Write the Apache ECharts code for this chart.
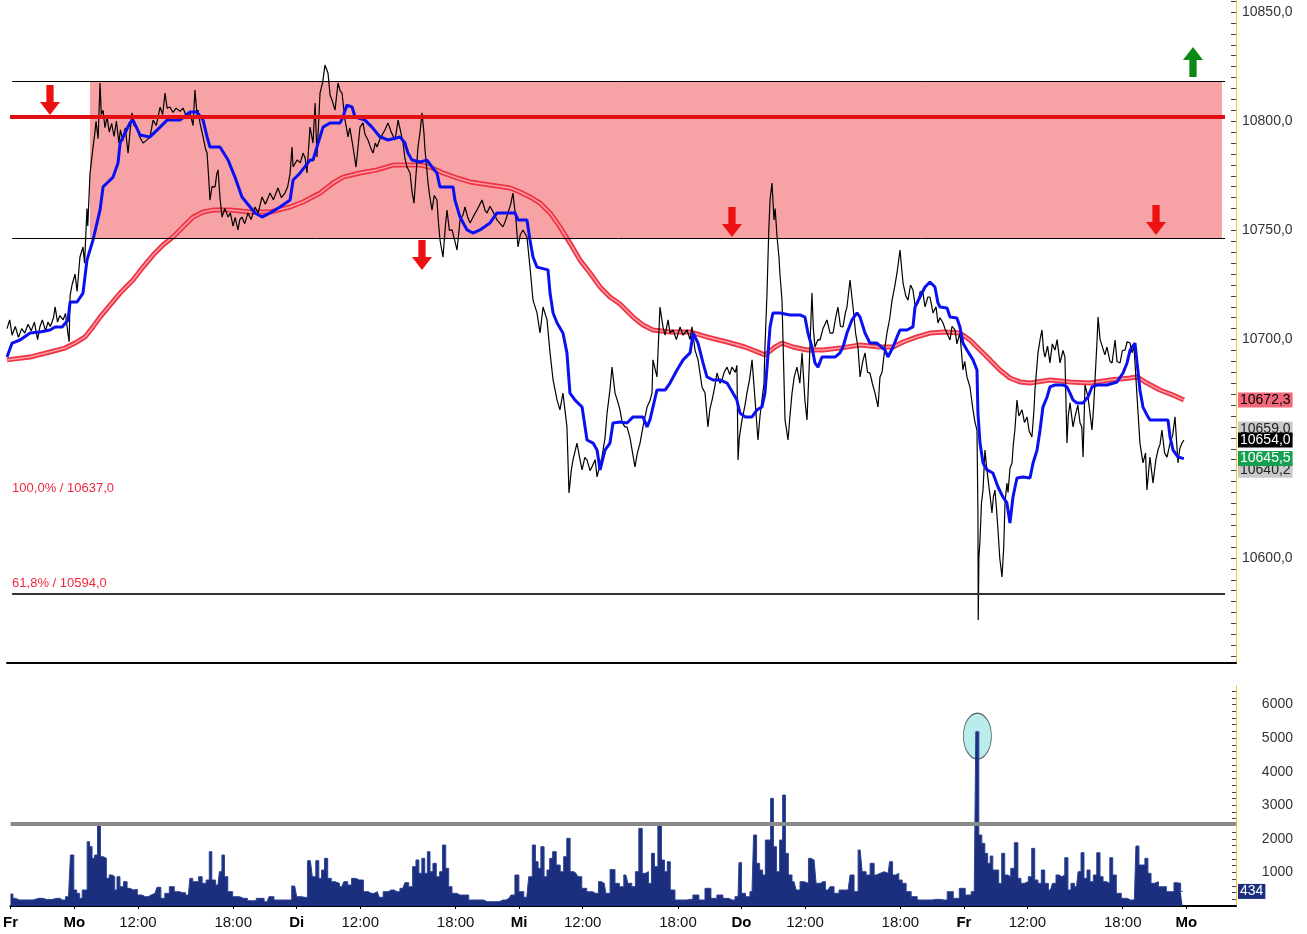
<!DOCTYPE html>
<html>
<head>
<meta charset="utf-8">
<script src="https://cdn.jsdelivr.net/npm/echarts@6/dist/echarts.min.js"></script>
<style>
html, body { margin: 0; padding: 0; background: #fff; }
#main { width: 1307px; height: 934px; }
</style>
</head>
<body>
<div id="main"></div>
<script>
// time axis: trading hours from Monday 08:00 (session 08:00-22:00, 14 h per day)
var timeTicks = [-4.02, 0, 4, 10, 14, 18, 24, 28, 32, 38, 42, 46, 52, 56, 60, 66, 70];
var timeLabels = ['Fr', 'Mo', '12:00', '18:00', 'Di', '12:00', '18:00', 'Mi', '12:00', '18:00', 'Do', '12:00', '18:00', 'Fr', '12:00', '18:00', 'Mo'];
var dayNames = ['Mo', 'Di', 'Mi', 'Do', 'Fr'];

var priceLabels = [10600, 10700, 10750, 10800, 10850];
var volumeLabels = [1000, 2000, 3000, 4000, 5000, 6000];

// [hour, price]
var priceLine = [[-4.02,10705],[-3.85,10709],[-3.7,10702],[-3.5,10706],[-3.3,10701],[-3.1,10705],[-2.9,10703],[-2.7,10707],[-2.5,10704],[-2.3,10708],[-2.1,10700],[-1.95,10706],[-1.8,10709],[-1.6,10704],[-1.45,10708],[-1.3,10706],[-1.1,10710],[-1.0,10715],[-0.85,10708],[-0.7,10711],[-0.5,10709],[-0.35,10712],[-0.2,10703],[-0.12,10699],[-0.06,10720],[0.06,10725],[0.25,10730],[0.38,10722],[0.56,10737.8],[0.75,10742.4],[0.85,10735],[1.0,10760],[1.05,10752],[1.19,10776],[1.38,10788],[1.5,10795],[1.57,10800],[1.7,10792],[1.82,10817.5],[1.9,10803],[2.01,10805],[2.13,10797],[2.26,10802],[2.4,10795],[2.55,10799],[2.7,10793],[2.85,10800],[3.0,10790],[3.1,10796],[3.25,10791],[3.4,10797],[3.58,10785.4],[3.7,10795],[3.83,10803.8],[3.95,10798],[4.14,10797.3],[4.3,10793],[4.52,10790],[4.7,10791],[4.96,10792.8],[5.15,10800.5],[5.35,10798],[5.59,10806.5],[5.75,10803],[5.9,10812.9],[6.03,10806],[6.21,10806.5],[6.4,10804],[6.6,10806],[6.84,10804.5],[7.03,10806],[7.2,10803],[7.47,10803.8],[7.66,10798],[7.78,10814.3],[7.91,10803],[7.97,10805.1],[8.1,10799],[8.29,10792.8],[8.45,10787],[8.54,10785.4],[8.65,10773],[8.72,10763.9],[8.85,10770],[9.04,10769.9],[9.15,10776],[9.23,10777.7],[9.35,10765],[9.48,10756.1],[9.65,10760],[9.86,10756.1],[10.0,10758],[10.17,10752],[10.3,10756],[10.48,10750.2],[10.6,10755],[10.73,10756.1],[10.9,10753],[11.11,10758],[11.3,10755],[11.55,10760.7],[11.75,10758],[11.99,10765.3],[12.2,10762],[12.49,10767.1],[12.7,10764],[12.99,10769.4],[13.2,10765],[13.43,10767.1],[13.6,10770],[13.75,10776],[13.87,10788.2],[13.94,10779],[14.19,10782.2],[14.4,10781],[14.56,10785.4],[14.7,10783],[14.81,10776.3],[15.0,10797.3],[15.19,10790],[15.32,10808.3],[15.44,10783.6],[15.63,10812.9],[15.8,10818],[15.94,10825.7],[16.13,10822.1],[16.26,10812],[16.38,10809.7],[16.57,10805.1],[16.76,10817.5],[16.89,10814],[17.01,10812.9],[17.2,10800.5],[17.39,10792.8],[17.5,10797],[17.7,10788.2],[17.89,10779],[18.14,10797.3],[18.33,10799.2],[18.45,10794],[18.64,10791.4],[18.8,10788],[18.96,10785.4],[19.1,10790],[19.21,10788.2],[19.4,10792],[19.52,10792.8],[19.7,10796],[19.9,10799.2],[20.1,10795],[20.34,10791.4],[20.53,10800.5],[20.7,10795],[20.84,10790],[20.96,10783],[21.09,10779],[21.28,10776.3],[21.4,10768],[21.53,10762.5],[21.65,10775],[21.78,10788.2],[21.91,10795],[22.03,10803.8],[22.15,10795],[22.22,10786.8],[22.41,10771.7],[22.53,10765],[22.66,10759.3],[22.8,10766],[22.97,10763.9],[23.05,10755],[23.16,10745.6],[23.35,10737.8],[23.5,10752],[23.6,10759.3],[23.75,10750],[23.92,10750.2],[24.1,10745],[24.23,10741],[24.42,10754.8],[24.6,10757],[24.73,10760.7],[24.9,10756],[25.05,10753.4],[25.3,10757],[25.48,10759.3],[25.6,10761],[25.8,10763.9],[26.0,10759],[26.11,10758],[26.3,10761],[26.43,10759.3],[26.6,10757],[26.74,10754.8],[26.95,10753],[27.12,10751.6],[27.3,10755],[27.43,10758],[27.6,10762],[27.74,10767.1],[27.93,10754.8],[28.06,10742.4],[28.2,10748],[28.37,10750.2],[28.62,10747],[28.81,10733.2],[29.0,10718.1],[29.25,10712.2],[29.44,10703],[29.63,10714.9],[29.88,10709],[30.07,10693.9],[30.26,10681.5],[30.51,10672.3],[30.69,10667.8],[30.88,10675.5],[31.13,10660],[31.26,10629.8],[31.4,10640],[31.51,10644.9],[31.76,10652.6],[31.95,10645],[32.08,10640.3],[32.25,10646],[32.39,10644.9],[32.58,10640],[32.7,10641.7],[32.9,10645],[33.02,10637.1],[33.21,10643],[33.33,10646.2],[33.52,10655],[33.65,10666.4],[33.83,10677],[33.96,10687.4],[34.15,10675.5],[34.3,10672],[34.46,10667.8],[34.6,10662],[34.77,10660],[34.9,10660],[35.09,10655],[35.22,10649.4],[35.4,10641.7],[35.55,10648],[35.72,10652.6],[35.9,10660],[36.16,10669.1],[36.34,10672],[36.47,10675.5],[36.53,10690.7],[36.78,10682.9],[36.97,10714.9],[37.16,10705.8],[37.29,10702],[37.48,10709],[37.6,10703],[37.79,10704.4],[38.0,10700],[38.23,10705.8],[38.42,10702],[38.67,10704.4],[38.86,10700],[38.98,10705.8],[39.17,10695.2],[39.36,10690.7],[39.61,10678.3],[39.8,10675.5],[39.98,10660],[40.1,10668],[40.24,10672.3],[40.4,10678],[40.55,10684.7],[40.74,10680],[40.86,10681.5],[41.0,10685],[41.18,10687.4],[41.35,10684],[41.49,10687.4],[41.7,10685],[41.8,10688.2],[41.87,10644.9],[41.95,10655],[42.12,10663.2],[42.31,10670],[42.43,10675.5],[42.6,10682],[42.75,10690.7],[42.94,10672.3],[43.12,10654],[43.25,10665],[43.37,10672.3],[43.5,10680],[43.56,10696.6],[43.69,10721.3],[43.8,10750],[43.88,10763.9],[44.0,10771.7],[44.13,10754.8],[44.2,10760],[44.32,10747],[44.44,10737.8],[44.5,10730],[44.63,10718.1],[44.82,10663.2],[45.01,10654],[45.13,10665],[45.26,10675.5],[45.4,10683],[45.57,10687.4],[45.75,10680],[45.89,10693.9],[46.07,10672],[46.2,10663.2],[46.35,10690],[46.51,10721.3],[46.6,10705],[46.7,10696.6],[46.89,10700],[47.02,10699.8],[47.2,10705],[47.45,10709],[47.65,10703],[47.83,10703],[48.0,10710],[48.14,10714.9],[48.3,10706],[48.46,10705.8],[48.6,10712],[48.71,10714.9],[48.9,10727.3],[49.09,10714.9],[49.25,10703],[49.4,10696.6],[49.53,10682.9],[49.7,10690],[49.84,10693.9],[50.0,10685],[50.15,10684.7],[50.3,10680],[50.47,10675.5],[50.66,10669.1],[50.78,10682.9],[50.91,10685],[51.1,10697],[51.22,10703],[51.4,10710],[51.54,10718.1],[51.7,10724],[51.85,10730.5],[52.04,10741],[52.15,10732],[52.23,10725.9],[52.4,10720],[52.54,10718.1],[52.7,10725],[52.85,10722.7],[52.98,10716],[53.17,10716.8],[53.3,10722],[53.48,10721.3],[53.61,10715],[53.79,10719.5],[53.92,10719.5],[54.11,10712.2],[54.3,10715],[54.42,10707.6],[54.55,10710],[54.74,10707.6],[54.86,10705],[55.18,10699.8],[55.3,10706],[55.49,10704.4],[55.61,10698],[55.8,10703],[55.99,10686.1],[56.1,10690],[56.24,10682.9],[56.43,10678.3],[56.62,10667.8],[56.75,10662],[56.87,10658.6],[56.93,10620.6],[56.95,10571.6],[56.99,10600],[57.06,10608.2],[57.15,10625],[57.25,10631.1],[57.37,10649.4],[57.5,10640],[57.56,10640.3],[57.7,10628],[57.81,10620.6],[57.9,10628],[58.0,10631.1],[58.1,10622],[58.19,10612.8],[58.3,10600],[58.44,10591.3],[58.55,10605],[58.63,10625.2],[58.75,10634.3],[58.82,10630],[58.94,10641],[59.07,10643.5],[59.15,10652],[59.25,10658.6],[59.38,10672.3],[59.5,10665],[59.7,10667.8],[59.85,10662],[60.01,10664.6],[60.15,10658],[60.32,10655.4],[60.45,10668],[60.51,10676.9],[60.7,10693.9],[60.83,10700],[60.95,10704.4],[61.05,10695],[61.14,10692],[61.3,10697],[61.45,10689.3],[61.6,10698],[61.77,10695.2],[61.9,10700],[62.08,10689.3],[62.27,10695],[62.39,10692],[62.52,10652.6],[62.6,10665],[62.71,10671],[62.9,10660],[63.02,10664.6],[63.2,10670],[63.34,10661.8],[63.45,10660],[63.53,10646.2],[63.65,10679.2],[63.84,10673.7],[63.97,10666],[64.09,10658.6],[64.2,10670],[64.28,10681.5],[64.41,10700],[64.47,10710.3],[64.6,10700],[64.72,10699.8],[64.9,10693],[65.03,10696.6],[65.22,10690],[65.35,10689.3],[65.45,10695],[65.54,10699.8],[65.66,10690],[65.85,10689.3],[66.0,10695],[66.16,10695.2],[66.3,10699],[66.48,10698.4],[66.6,10694],[66.73,10696.6],[66.92,10673.7],[67.1,10652.6],[67.29,10643.5],[67.45,10648],[67.54,10631.1],[67.65,10640],[67.73,10646.2],[67.92,10634.3],[68.1,10645],[68.23,10649.4],[68.36,10652],[68.48,10658.6],[68.65,10648],[68.8,10646.2],[68.99,10652.6],[69.15,10656],[69.3,10664.6],[69.49,10643.5],[69.6,10650],[69.74,10652.6],[69.86,10654]];

var blueLine = [[-4.02,10692],[-3.7,10698.4],[-3.2,10699.8],[-2.57,10703],[-1.95,10703.5],[-1.32,10704.4],[-1.0,10705.8],[-0.56,10705.8],[-0.19,10709],[-0.06,10717.2],[0.38,10717.2],[0.75,10721.3],[1.0,10736.4],[1.38,10745.6],[1.63,10753.4],[1.82,10759.3],[2.01,10769.9],[2.26,10771.7],[2.64,10774.4],[2.95,10780.9],[3.08,10790],[3.39,10794.6],[3.7,10799.2],[3.89,10800.5],[4.33,10793.7],[4.96,10792.8],[5.59,10797.3],[6.03,10800.5],[6.84,10800.5],[7.47,10804.2],[7.91,10804.2],[8.29,10800.5],[8.54,10792.8],[8.72,10788.2],[9.35,10788.2],[9.86,10782.2],[10.29,10774.4],[10.73,10765.3],[11.24,10760.7],[11.55,10758],[11.99,10756.1],[12.49,10758],[13.12,10760.7],[13.75,10763.9],[13.94,10773.1],[14.38,10776.3],[15.0,10782.2],[15.19,10782.2],[15.51,10790],[15.82,10797.3],[16.26,10799.2],[16.89,10799.2],[17.07,10801.9],[17.32,10807.4],[17.64,10806.5],[17.83,10801.9],[18.45,10800.5],[18.89,10797.3],[19.40,10792.8],[19.90,10791.4],[20.65,10792.8],[20.96,10790],[21.15,10785.4],[21.40,10782.2],[21.91,10781.3],[22.35,10782.2],[22.66,10779],[22.97,10776.3],[23.16,10769.9],[23.98,10769.9],[24.10,10763.9],[24.42,10756.1],[24.86,10750.2],[25.23,10748.8],[25.67,10750.2],[26.30,10753.4],[26.74,10758],[27.87,10758],[28.06,10754.8],[28.62,10754.8],[28.81,10745.6],[29.00,10737.8],[29.25,10733.2],[29.94,10731.9],[30.07,10721.3],[30.26,10712.2],[30.51,10707.6],[30.88,10703],[31.13,10693.9],[31.32,10675.5],[31.64,10672.3],[32.08,10669.1],[32.39,10654],[32.77,10652.6],[33.02,10649.4],[33.21,10640.3],[33.52,10649.4],[33.83,10652.6],[34.02,10661.8],[34.46,10662.3],[34.90,10661.8],[35.28,10664.6],[35.90,10664.6],[36.16,10660],[36.34,10663.2],[36.53,10669.1],[36.78,10676.9],[37.29,10676.9],[37.60,10680.1],[38.04,10686.1],[38.42,10690.7],[38.86,10693.9],[39.05,10703],[39.36,10698.4],[39.67,10689.3],[39.92,10682.9],[40.30,10681.5],[40.74,10681.5],[41.18,10680.1],[41.55,10675.5],[41.80,10672.3],[41.99,10666.4],[42.31,10664.6],[42.75,10664.6],[43.06,10667.8],[43.37,10669.1],[43.56,10675.5],[43.69,10687.4],[43.88,10705.8],[44.06,10712.2],[44.50,10712.2],[45.13,10711.3],[45.76,10711.3],[46.07,10710.3],[46.26,10703],[46.51,10696.6],[46.70,10689.3],[46.89,10687.4],[47.14,10692],[47.96,10692],[48.27,10693.9],[48.46,10696.6],[48.71,10703],[49.02,10709],[49.34,10712.2],[49.53,10710.3],[49.84,10703],[50.15,10698.4],[50.59,10698.4],[51.10,10695.2],[51.28,10692],[51.60,10696.6],[51.85,10701.2],[52.04,10704.4],[52.48,10704.4],[52.85,10705.8],[52.98,10714.9],[53.29,10719.5],[53.61,10724.1],[53.92,10726.4],[54.23,10724.1],[54.42,10716.8],[54.55,10714.9],[54.99,10714.5],[55.18,10710.3],[55.61,10709.9],[55.80,10705.8],[55.99,10698.4],[56.24,10695.2],[56.62,10690.7],[56.87,10686.1],[56.93,10666.4],[57.06,10652.6],[57.25,10643.5],[57.50,10640.3],[57.87,10638.9],[58.19,10632.5],[58.50,10627.9],[58.75,10625.2],[58.94,10616],[59.13,10627.9],[59.38,10636.6],[59.76,10637.1],[60.20,10636.6],[60.39,10643.5],[60.64,10649.4],[60.83,10658.6],[61.01,10669.1],[61.27,10673.7],[61.45,10678.3],[61.77,10679.2],[62.27,10679.2],[62.52,10678.3],[62.71,10675.5],[62.90,10672.3],[63.15,10671],[63.53,10671],[63.84,10673.7],[64.09,10678.3],[64.41,10679.2],[65.03,10679.2],[65.66,10680.6],[66.04,10684.7],[66.29,10689.3],[66.48,10695.2],[66.79,10698.4],[66.92,10689.3],[67.10,10676.9],[67.29,10669.1],[67.54,10665.5],[67.73,10663.2],[68.86,10663.2],[68.99,10655.4],[69.18,10649.4],[69.49,10646.2],[69.86,10645.5]];

var redAvg = [[-4.02,10690.7],[-2.57,10692],[-1.32,10694.3],[-0.38,10696.1],[0.25,10698.4],[0.88,10701.2],[1.38,10705.8],[1.82,10710.3],[2.45,10715.8],[3.08,10721.3],[3.89,10727.3],[4.52,10733.2],[5.15,10738.7],[5.77,10743.3],[6.40,10747],[7.03,10751.6],[7.66,10756.1],[8.29,10758.4],[8.91,10759.3],[9.98,10759.3],[11.24,10758.4],[12.49,10758.4],[13.75,10760.7],[14.56,10763],[15.63,10767.1],[16.45,10771.7],[17.07,10774.4],[18.14,10776.3],[19.21,10777.7],[20.21,10779.9],[21.09,10779.9],[21.91,10779.9],[22.53,10779],[23.35,10776.3],[24.23,10774],[25.05,10772.2],[26.30,10770.8],[27.56,10769.4],[28.18,10767.6],[28.81,10765.3],[29.44,10762.5],[30.07,10758],[30.69,10751.6],[31.32,10744.2],[31.95,10736.4],[32.58,10730.5],[33.21,10724.1],[33.83,10719.5],[34.46,10716.3],[35.28,10710.3],[35.90,10706.7],[36.53,10704.4],[37.60,10703.5],[38.86,10703.5],[39.92,10701.2],[41.18,10698.9],[42.31,10696.6],[43.25,10693.9],[43.56,10692.9],[44.19,10696.6],[44.63,10698.4],[45.32,10696.6],[46.20,10695.2],[47.20,10695.2],[48.27,10696.1],[49.53,10697.5],[50.78,10696.6],[51.60,10696.6],[52.23,10698.9],[53.10,10701.2],[53.92,10703],[54.86,10703.5],[55.80,10703],[56.43,10699.8],[57.06,10695.2],[57.69,10690.7],[58.31,10686.1],[58.94,10682.4],[59.57,10680.6],[60.20,10680.1],[61.45,10681.5],[62.71,10680.6],[63.97,10680.1],[65.22,10681.5],[66.48,10682.4],[66.92,10682.9],[67.54,10680.1],[68.36,10676.9],[69.18,10674.6],[69.86,10672.3]];

// [hour, contracts]
var volume = [[-4.02,357],[-3.71,228],[-3.46,180],[-2.97,180],[-2.23,228],[-1.73,190],[-1.11,228],[-0.74,180],[-0.37,278],[-0.12,1518],[0.05,476],[0.25,377],[0.42,228],[0.57,476],[0.74,476],[0.87,1915],[1.04,1766],[1.19,1419],[1.36,1518],[1.56,2460],[1.73,1468],[1.93,1419],[2.10,823],[2.28,923],[2.48,873],[2.60,476],[2.77,873],[2.97,575],[3.22,724],[3.42,526],[3.59,476],[3.84,496],[4.09,327],[4.46,278],[4.83,327],[5.08,377],[5.32,556],[5.57,228],[5.82,377],[6.14,575],[6.44,427],[6.81,397],[7.18,327],[7.36,823],[7.55,724],[7.73,724],[7.92,873],[8.17,675],[8.42,774],[8.57,1617],[8.74,774],[9.04,625],[9.22,1022],[9.36,1518],[9.54,873],[9.78,427],[10.15,278],[10.65,228],[11.14,159],[11.76,228],[12.13,129],[12.38,278],[12.75,179],[13.13,179],[13.50,179],[13.87,595],[14.12,278],[14.49,258],[14.86,1349],[15.10,873],[15.30,1349],[15.48,823],[15.65,1071],[15.85,1419],[16.05,823],[16.30,724],[16.54,675],[16.84,575],[17.09,724],[17.33,625],[17.58,823],[17.83,774],[18.08,774],[18.32,427],[18.69,377],[19.07,427],[19.32,258],[19.56,427],[19.94,476],[20.31,427],[20.68,526],[20.93,694],[21.17,575],[21.42,1171],[21.59,1369],[21.79,972],[21.96,1419],[22.16,972],[22.29,1617],[22.49,1022],[22.66,1270],[22.91,873],[23.08,1022],[23.28,1815],[23.48,1121],[23.65,575],[23.90,377],[24.27,327],[24.64,327],[25.01,179],[25.51,179],[26.00,129],[26.50,129],[26.99,179],[27.36,228],[27.61,327],[27.86,923],[28.11,427],[28.48,258],[28.73,873],[28.93,1815],[29.12,1319],[29.27,1121],[29.47,1766],[29.67,873],[29.84,1071],[30.01,1419],[30.21,1617],[30.46,1220],[30.71,1022],[30.90,1468],[31.10,2014],[31.32,1022],[31.58,972],[31.82,873],[32.07,526],[32.44,427],[32.81,377],[33.18,724],[33.36,675],[33.55,377],[33.90,1085],[34.17,675],[34.46,575],[34.72,923],[34.97,675],[35.22,575],[35.42,1022],[35.65,2311],[35.85,972],[36.05,1022],[36.23,675],[36.43,1567],[36.61,1171],[36.86,2410],[37.06,1369],[37.24,1022],[37.41,1319],[37.62,476],[38.00,179],[38.37,179],[38.75,198],[39.13,327],[39.51,179],[39.89,526],[40.26,228],[40.64,327],[41.02,228],[41.40,179],[41.78,278],[41.90,1290],[42.10,377],[42.40,278],[42.66,427],[42.86,2113],[43.04,1270],[43.24,1071],[43.41,923],[43.59,1964],[43.74,1964],[43.92,3204],[44.10,1766],[44.30,1022],[44.50,1964],[44.68,3303],[44.85,1567],[45.05,923],[45.31,724],[45.56,476],[45.81,724],[46.06,675],[46.37,1419],[46.57,1369],[46.82,675],[47.12,724],[47.45,476],[47.70,575],[47.95,377],[48.33,476],[48.71,476],[48.96,923],[49.21,427],[49.47,1667],[49.72,1022],[49.97,923],[50.22,1270],[50.48,923],[50.73,972],[50.98,1022],[51.23,972],[51.41,1319],[51.61,923],[51.81,972],[51.99,774],[52.24,675],[52.49,427],[52.87,278],[53.25,179],[53.75,179],[54.26,198],[54.76,179],[55.14,427],[55.52,228],[55.90,526],[56.27,327],[56.65,427],[56.85,5188],[57.03,2113],[57.23,1865],[57.41,1567],[57.58,1270],[57.73,1488],[57.91,1071],[58.09,1071],[58.29,675],[58.47,1567],[58.67,923],[58.85,873],[59.05,1121],[59.30,1885],[59.50,823],[59.68,675],[59.93,724],[60.18,873],[60.36,1716],[60.56,774],[60.76,675],[60.99,1071],[61.19,675],[61.45,476],[61.70,675],[61.90,923],[62.08,873],[62.25,923],[62.45,1438],[62.65,476],[62.83,675],[63.09,575],[63.29,1022],[63.46,1587],[63.66,823],[63.84,1071],[64.04,724],[64.26,923],[64.47,1587],[64.67,873],[64.85,724],[65.10,675],[65.27,1438],[65.47,923],[65.72,377],[66.10,228],[66.48,179],[66.73,179],[66.93,1786],[67.11,1220],[67.31,1220],[67.48,1419],[67.69,972],[67.87,675],[68.12,724],[68.37,575],[68.62,575],[68.87,427],[69.12,427],[69.33,694],[69.52,675],[69.77,434]];

// resistance zone and levels
var zoneStart = 1.19, zoneEnd = 72.25, zoneLow = 10746.5, zoneHigh = 10818.4;
var lineStart = -3.70, lineEnd = 72.44;
var redLevel = 10802;
var fibLevel = 10583.5, fibLabelLevel = 10627;
var fibTexts = ['61,8% / 10594,0', '100,0% / 10637,0'];
var volumeLimit = 2440;
var volumeMarked = [56.85, 5060];

// arrows [hour, price]
var downArrows = [[-1.32, 10809.7], [22.03, 10738.7], [41.49, 10753.8], [68.11, 10754.8]];
var upArrows = [[70.43, 10827.1]];

// right-hand price tags
var priceTags = [10672.3, 10659.0, 10640.2, 10645.5, 10654.0];
var tagColors = ['#f2687a', '#c9c9c9', '#c9c9c9', '#14a050', '#000000'];
var tagText = ['#000', '#222', '#222', '#fff', '#fff'];
var lastVolume = 434;

var FONT = 'Liberation Sans, Arial, sans-serif';
var chart = echarts.init(document.getElementById('main'));

function comma(v) { return v.toFixed(1).replace('.', ','); }

var priceTicks = [];
for (var p = 10555; p <= 10855; p += 5) priceTicks.push(p);
var volTicks = [];
for (var q = 200; q <= 6400; q += 200) volTicks.push(q);

var downPath = 'path://M7,0 L15,0 L15,17 L22,17 L11,30 L0,17 L7,17 Z';
var upPath = 'path://M11,0 L22,13 L15,13 L15,30 L7,30 L7,13 L0,13 Z';

var option = {
    animation: false,
    backgroundColor: '#fff',
    grid: [
        { left: 7, right: 71, top: 0, height: 663 },
        { left: 7, right: 71, top: 686, height: 220 }
    ],
    xAxis: [
        {
            gridIndex: 0, type: 'value', min: -4.02, max: 73.13,
            axisLine: { onZero: false, lineStyle: { color: '#000', width: 2 } },
            axisTick: { show: false }, axisLabel: { show: false }, splitLine: { show: false }
        },
        {
            gridIndex: 1, type: 'value', min: -4.02, max: 73.13,
            axisLine: { onZero: false, lineStyle: { color: '#000', width: 2 } },
            axisTick: { customValues: timeTicks, length: 3, lineStyle: { color: '#000' } },
            axisLabel: {
                customValues: timeTicks, margin: 9, fontSize: 15, color: '#111', fontFamily: FONT,
                formatter: function (v) {
                    for (var i = 0; i < timeTicks.length; i++) {
                        if (Math.abs(timeTicks[i] - v) < 0.01) {
                            var s = timeLabels[i];
                            return dayNames.indexOf(s) >= 0 ? '{d|' + s + '}' : s;
                        }
                    }
                    return '';
                },
                rich: { d: { fontWeight: 'bold', fontSize: 15, color: '#000', fontFamily: FONT } }
            },
            splitLine: { show: false }
        }
    ],
    yAxis: [
        {
            gridIndex: 0, type: 'value', position: 'right', min: 10551.9, max: 10855.5,
            axisLine: { show: true, onZero: false, lineStyle: { color: '#f2c230', width: 1 } },
            axisTick: { show: true, inside: true, customValues: priceTicks, length: 5, lineStyle: { color: '#444' } },
            axisLabel: { customValues: priceLabels, formatter: comma, margin: 6, fontSize: 14, color: '#333', fontFamily: FONT },
            splitLine: { show: false }
        },
        {
            gridIndex: 1, type: 'value', position: 'right', min: 0, max: 6550,
            axisLine: { show: true, onZero: false, lineStyle: { color: '#f2c230', width: 1 } },
            axisTick: { show: true, inside: true, customValues: volTicks, length: 4, lineStyle: { color: '#444' } },
            axisLabel: {
                customValues: volumeLabels, align: 'right', margin: 57, fontSize: 14, color: '#333', fontFamily: FONT,
                formatter: function (v) { return String(v); }
            },
            splitLine: { show: false }
        }
    ],
    series: [
        {
            // resistance zone
            type: 'line', xAxisIndex: 0, yAxisIndex: 0, data: [], z: 1, silent: true,
            markArea: {
                silent: true,
                itemStyle: { color: 'rgba(240,72,78,0.5)' },
                data: [[{ coord: [zoneStart, zoneHigh] }, { coord: [zoneEnd, zoneLow] }]]
            }
        },
        {
            type: 'line', xAxisIndex: 0, yAxisIndex: 0, data: redAvg, z: 2,
            showSymbol: false, lineStyle: { color: '#ee3345', width: 5 }
        },
        {
            type: 'line', xAxisIndex: 0, yAxisIndex: 0, data: redAvg, z: 2,
            showSymbol: false, lineStyle: { color: '#ff9da3', width: 1.5 }
        },
        {
            type: 'line', xAxisIndex: 0, yAxisIndex: 0, data: priceLine, z: 3,
            showSymbol: false, lineStyle: { color: '#000', width: 1.2 }
        },
        {
            type: 'line', xAxisIndex: 0, yAxisIndex: 0, data: blueLine, z: 4,
            showSymbol: false, lineStyle: { color: '#0a10f2', width: 3 }
        },
        {
            // levels, arrows, fib labels
            type: 'line', xAxisIndex: 0, yAxisIndex: 0, data: [], z: 5, silent: true,
            markLine: {
                silent: true, symbol: 'none',
                data: [
                    [{ coord: [lineStart, zoneHigh], lineStyle: { color: '#000', width: 1, type: 'solid' }, label: { show: false } },
                     { coord: [lineEnd, zoneHigh] }],
                    [{ coord: [lineStart, zoneLow], lineStyle: { color: '#000', width: 1, type: 'solid' }, label: { show: false } },
                     { coord: [lineEnd, zoneLow] }],
                    [{ coord: [-3.83, redLevel], lineStyle: { color: '#e21010', width: 4, type: 'solid' }, label: { show: false } },
                     { coord: [lineEnd, redLevel] }],
                    [{ coord: [lineStart, fibLevel], lineStyle: { color: '#333', width: 2, type: 'solid' },
                       label: { show: true, position: 'insideStartTop', distance: [0, 4], formatter: fibTexts[0], color: '#f0283c', fontSize: 13, fontFamily: FONT } },
                     { coord: [lineEnd, fibLevel] }],
                    [{ coord: [lineStart, fibLabelLevel], lineStyle: { color: 'rgba(0,0,0,0)', width: 0 },
                       label: { show: true, position: 'insideStartTop', distance: [0, 4], formatter: fibTexts[1], color: '#f0283c', fontSize: 13, fontFamily: FONT } },
                     { coord: [lineEnd, fibLabelLevel] }]
                ]
            },
            markPoint: {
                silent: true,
                label: { show: false },
                data: downArrows.map(function (a) {
                    return { coord: a, symbol: downPath, symbolSize: [20, 30], itemStyle: { color: '#ee1111' } };
                }).concat(upArrows.map(function (a) {
                    return { coord: a, symbol: upPath, symbolSize: [20, 30], itemStyle: { color: '#0a8a14' } };
                }))
            }
        },
        {
            // price tags on the right axis
            type: 'line', xAxisIndex: 0, yAxisIndex: 0, data: [], z: 6, silent: true,
            markLine: {
                silent: true, symbol: 'none',
                lineStyle: { color: 'rgba(0,0,0,0)', width: 0 },
                data: priceTags.map(function (v, i) {
                    return {
                        yAxis: v,
                        label: {
                            show: true, position: 'end', distance: 2, formatter: comma(v),
                            backgroundColor: tagColors[i], color: tagText[i],
                            padding: [1, 2, 0, 2], fontSize: 14, fontFamily: FONT
                        }
                    };
                })
            }
        },
        {
            type: 'scatter', xAxisIndex: 1, yAxisIndex: 1, z: 1, silent: true,
            data: [volumeMarked], symbol: 'circle', symbolSize: [28, 46],
            itemStyle: { color: '#a9e7e7', borderColor: '#2a3a3a', borderWidth: 1 }
        },
        {
            type: 'line', xAxisIndex: 1, yAxisIndex: 1, data: volume, z: 2,
            step: 'middle', showSymbol: false,
            lineStyle: { color: '#2c4396', width: 1 },
            areaStyle: { color: '#1c2f7e', opacity: 1 },
            markLine: {
                silent: true, symbol: 'none',
                data: [
                    { yAxis: volumeLimit, lineStyle: { color: '#8a8a8a', width: 4, type: 'solid' }, label: { show: false } },
                    { yAxis: lastVolume, lineStyle: { color: 'rgba(0,0,0,0)', width: 0 },
                      label: { show: true, position: 'end', distance: 2, formatter: String(lastVolume),
                               backgroundColor: '#1c2f7e', color: '#fff', padding: [1, 2, 0, 2], fontSize: 14, fontFamily: FONT } }
                ]
            }
        }
    ]
};

chart.setOption(option);
</script>
</body>
</html>
